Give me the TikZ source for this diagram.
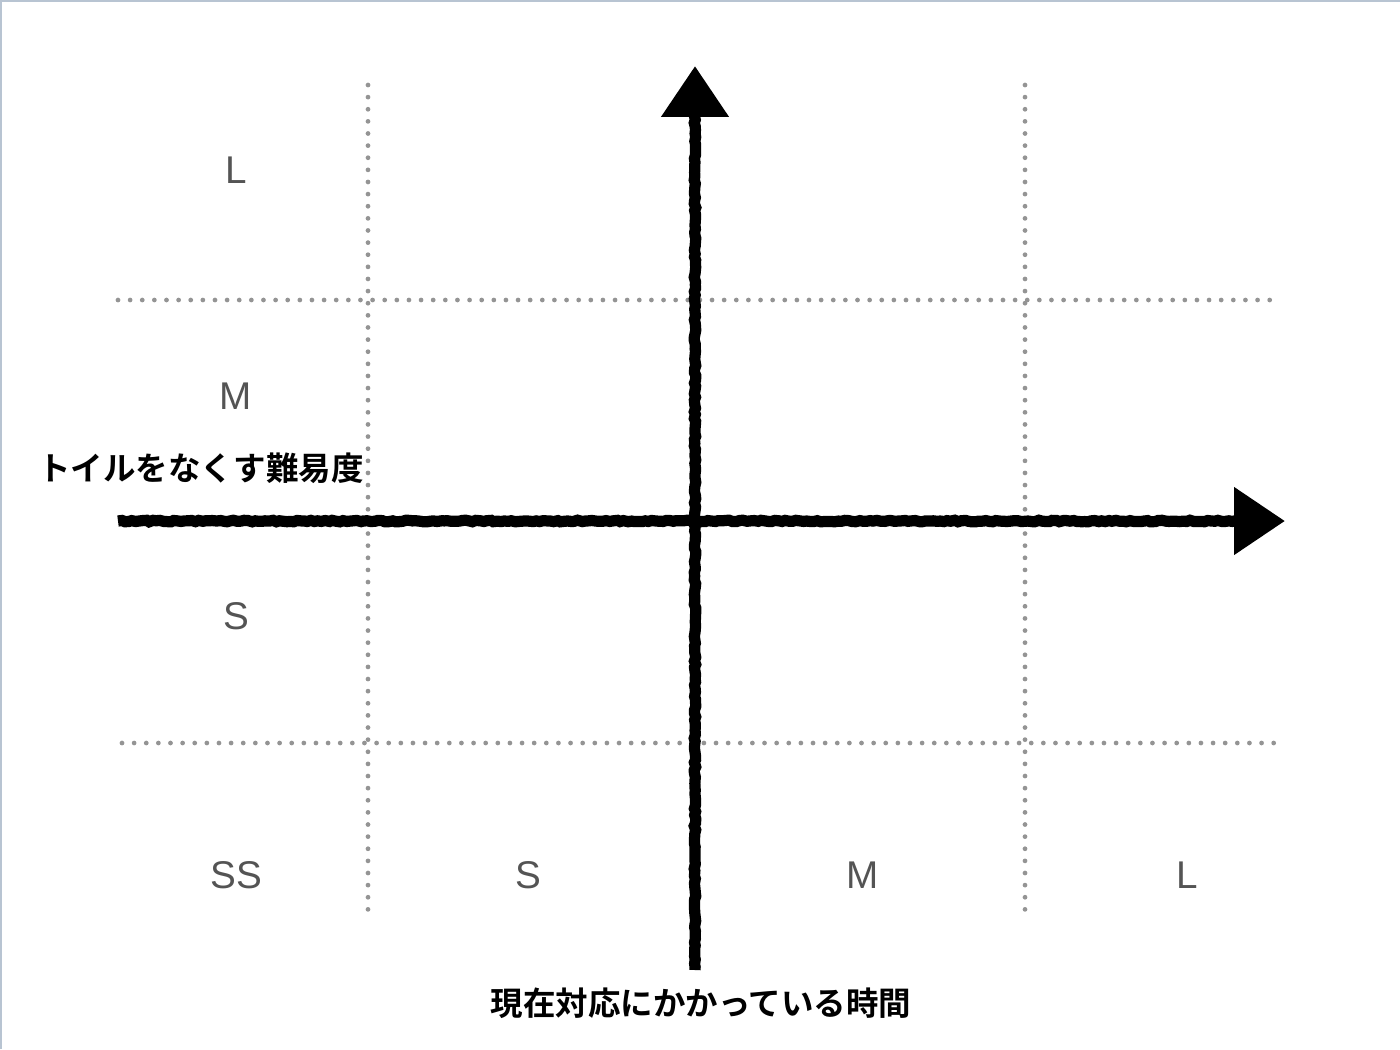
\documentclass[tikz,border=0pt]{standalone}
\usepackage{fontspec}
\setmainfont{Liberation Sans}
\newfontfamily\jp[BoldFont={Noto Sans CJK JP Bold}]{Noto Sans CJK JP}
\usetikzlibrary{arrows.meta,decorations.pathmorphing,calc}

\begin{document}
\begin{tikzpicture}[x=0.02cm,y=-0.02cm]
    \tikzstyle{grid} = [draw=black!42, line width=2.7pt, line cap=round, dash pattern=on 0pt off 6.9pt]
    \tikzstyle{axis} = [draw=black, line width=6.4pt, decorate, decoration={random steps,segment length=2pt,amplitude=0.45pt}]
    \tikzstyle{tip} = [-{Triangle[length=29pt,width=37pt]}]
    \tikzstyle{size} = [text=black!67, font=\fontsize{22}{26}\selectfont]
    \tikzstyle{ann} = [font=\jp\bfseries\fontsize{18.5}{22}\selectfont]

    \useasboundingbox (0,0) rectangle (1400,1049);
    \draw[color={rgb,255:red,184;green,196;blue,210}, line width=1.2pt] (1,1049) -- (1,1) -- (1400,1);

    % grid
    \draw[grid] (368,85) -- (368,910);
    \draw[grid] (1025,85) -- (1025,910);
    \draw[grid] (118,300) -- (1276,300);
    \draw[grid] (122,743) -- (1280,743);

    % axes
    \coordinate (yb) at (695,970);
    \coordinate (yt) at (695,66);
    \coordinate (xl) at (118,521);
    \coordinate (xr) at (1285,521);
    \draw[axis] (yb) -- ($(yt)+(0,45)$);
    \draw[axis] (xl) -- ($(xr)+(-45,0)$);
    \draw[tip, line width=6.4pt] ($(yt)+(0,50)$) -- (yt);
    \draw[tip, line width=6.4pt] ($(xr)+(-50,0)$) -- (xr);

    % sizes
    \node[size] (yL) at (236,170) {L};
    \node[size] (yM) at (236,396) {M};
    \node[size] (yS) at (236,616) {S};
    \node[size] (xSS) at (236,875) {SS};
    \node[size] (xS) at (528,875) {S};
    \node[size] (xM) at (863,875) {M};
    \node[size] (xL) at (1187,875) {L};

    % labels
    \node[ann] (ylab) at (201,468) {トイルをなくす難易度};
    \node[ann] (xlab) at (701,1003) {現在対応にかかっている時間};
\end{tikzpicture}
\end{document}
